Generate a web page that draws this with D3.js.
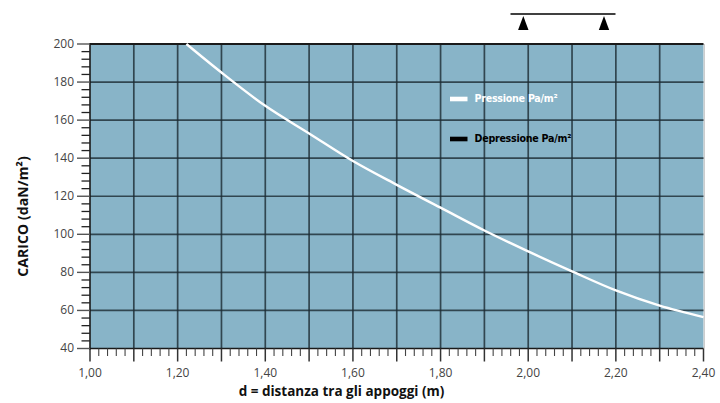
<!DOCTYPE html>
<html><head><meta charset="utf-8">
<script src="https://cdn.jsdelivr.net/npm/d3@7"></script>
<style>
html,body{margin:0;padding:0;background:#fff;}
svg{display:block;}
</style></head>
<body>
<svg id="c" width="720" height="403"></svg>
<script>
// Data
const distances = [1.22, 1.30, 1.40, 1.50, 1.60, 1.70, 1.80, 1.90, 2.00, 2.10, 2.20, 2.30, 2.40];
const pressione = [200, 185, 167.5, 153, 138.5, 126, 114, 102, 91, 80.5, 70.5, 62.5, 56.5];
const xTicks = [1.00, 1.20, 1.40, 1.60, 1.80, 2.00, 2.20, 2.40];
const yTicks = [40, 60, 80, 100, 120, 140, 160, 180, 200];
const legendLabels = ["Pressione Pa/m²", "Depressione Pa/m²"];
const xTitle = "d = distanza tra gli appoggi (m)";
const yTitle = "CARICO (daN/m²)";

const svg = d3.select("#c");
const L = 90, R = 703.5, T = 44, B = 348.5;
const x = d3.scaleLinear().domain([1.0, 2.4]).range([L, R]);
const y = d3.scaleLinear().domain([40, 200]).range([B, T]);
const fmt = v => d3.format(".2f")(v).replace(".", ",");

// background
svg.append("rect").attr("x", L).attr("y", T).attr("width", R - L).attr("height", B - T).attr("fill", "#88b4c8");
// right light border
svg.append("line").attr("x1", R + 0.8).attr("x2", R + 0.8).attr("y1", T).attr("y2", B).attr("stroke", "#c8c8c8").attr("stroke-width", 1.2);

// grid
svg.append("g").selectAll("line").data(d3.range(1, 14).map(i => 1 + i * 0.1)).join("line")
  .attr("x1", d => x(d)).attr("x2", d => x(d)).attr("y1", T).attr("y2", B)
  .attr("stroke", "#1c2a32").attr("stroke-opacity", 0.8).attr("stroke-width", 1.7);
svg.append("g").selectAll("line").data(yTicks.slice(1, -1)).join("line")
  .attr("x1", L).attr("x2", R).attr("y1", d => y(d)).attr("y2", d => y(d))
  .attr("stroke", "#1c2a32").attr("stroke-opacity", 0.8).attr("stroke-width", 1.7);
// top border
svg.append("line").attr("x1", L).attr("x2", R).attr("y1", T).attr("y2", T).attr("stroke", "#1a1a1a").attr("stroke-width", 2);

// curve
const line = d3.line().x((d, i) => x(distances[i])).y(d => y(d)).curve(d3.curveMonotoneX);
svg.append("path").attr("d", line(pressione)).attr("fill", "none").attr("stroke", "#fff").attr("stroke-width", 2.4);

// x axis
const xa = svg.append("g").attr("transform", `translate(0,${B})`);
xa.append("line").attr("x1", L - 1).attr("x2", R).attr("stroke", "#1a1a1a").attr("stroke-width", 1.6);
const xMinor = d3.range(0, 71).map(i => 1 + i * 0.02);
xa.selectAll("line.m").data(xMinor).join("line").attr("class", "m")
  .attr("x1", d => x(d)).attr("x2", d => x(d)).attr("y1", 0)
  .attr("y2", (d, i) => i % 5 === 0 ? 13 : 7.5)
  .attr("stroke", (d, i) => i % 5 === 0 ? "#333" : "#444").attr("stroke-width", (d, i) => i % 5 === 0 ? 1.5 : 1.1);
xa.selectAll("text").data(xTicks).join("text")
  .attr("x", d => x(d)).attr("y", 28).attr("text-anchor", "middle")
  .attr("font-family", "Open Sans, sans-serif").attr("font-size", 12).attr("fill", "#444")
  .text(fmt);

// y axis
const ya = svg.append("g").attr("transform", `translate(${L},0)`);
ya.append("line").attr("y1", T - 1).attr("y2", B + 1).attr("stroke", "#1a1a1a").attr("stroke-width", 1.6);
const yMinor = d3.range(0, 41).map(i => 40 + i * 4);
ya.selectAll("line.m").data(yMinor).join("line").attr("class", "m")
  .attr("y1", d => y(d)).attr("y2", d => y(d)).attr("x1", 0)
  .attr("x2", (d, i) => i % 5 === 0 ? -13 : -8.5)
  .attr("stroke", (d, i) => i % 5 === 0 ? "#555" : "#222").attr("stroke-width", (d, i) => i % 5 === 0 ? 1.4 : 1.3);
ya.selectAll("text").data(yTicks).join("text")
  .attr("x", -16).attr("y", d => y(d)).attr("dy", "0.32em").attr("text-anchor", "end")
  .attr("font-family", "Open Sans, sans-serif").attr("font-size", 12).attr("fill", "#444")
  .text(d => d);

// titles
svg.append("text").attr("x", 341.5).attr("y", 396).attr("text-anchor", "middle")
  .attr("font-family", "Open Sans, sans-serif").attr("font-weight", "bold").attr("font-size", 13.5).attr("fill", "#111")
  .attr("letter-spacing", 0)
  .text(xTitle);
svg.append("text").attr("transform", "translate(27.5,216.5) rotate(-90)").attr("text-anchor", "middle")
  .attr("font-family", "Open Sans, sans-serif").attr("font-weight", "bold").attr("font-size", 14).attr("fill", "#111")
  .attr("letter-spacing", 0.1)
  .text(yTitle);

// legend
const legendColors = ["#fff", "#000"];
const lg = svg.append("g");
legendLabels.forEach((lab, i) => {
  const yy = 99 + i * 40;
  lg.append("rect").attr("x", 450).attr("y", yy - 2.3).attr("width", 17.5).attr("height", 4.6).attr("fill", legendColors[i]);
  lg.append("text").attr("x", 474.5).attr("y", yy - 0.5).attr("dy", "0.35em")
    .attr("font-family", "DejaVu Sans Condensed, DejaVu Sans, sans-serif").attr("font-stretch", "condensed")
    .attr("font-weight", "bold").attr("font-size", 10.6).attr("fill", legendColors[i]).attr("letter-spacing", -0.25)
    .text(lab);
});

// support symbol
const sg = svg.append("g");
sg.append("line").attr("x1", 510.5).attr("x2", 615.5).attr("y1", 14).attr("y2", 14).attr("stroke", "#000").attr("stroke-width", 1.4);
[523.3, 604].forEach(cx => {
  sg.append("path").attr("d", `M${cx},16 L${cx + 5.2},30 L${cx - 5.2},30 Z`).attr("fill", "#000");
});
</script>
</body></html>
